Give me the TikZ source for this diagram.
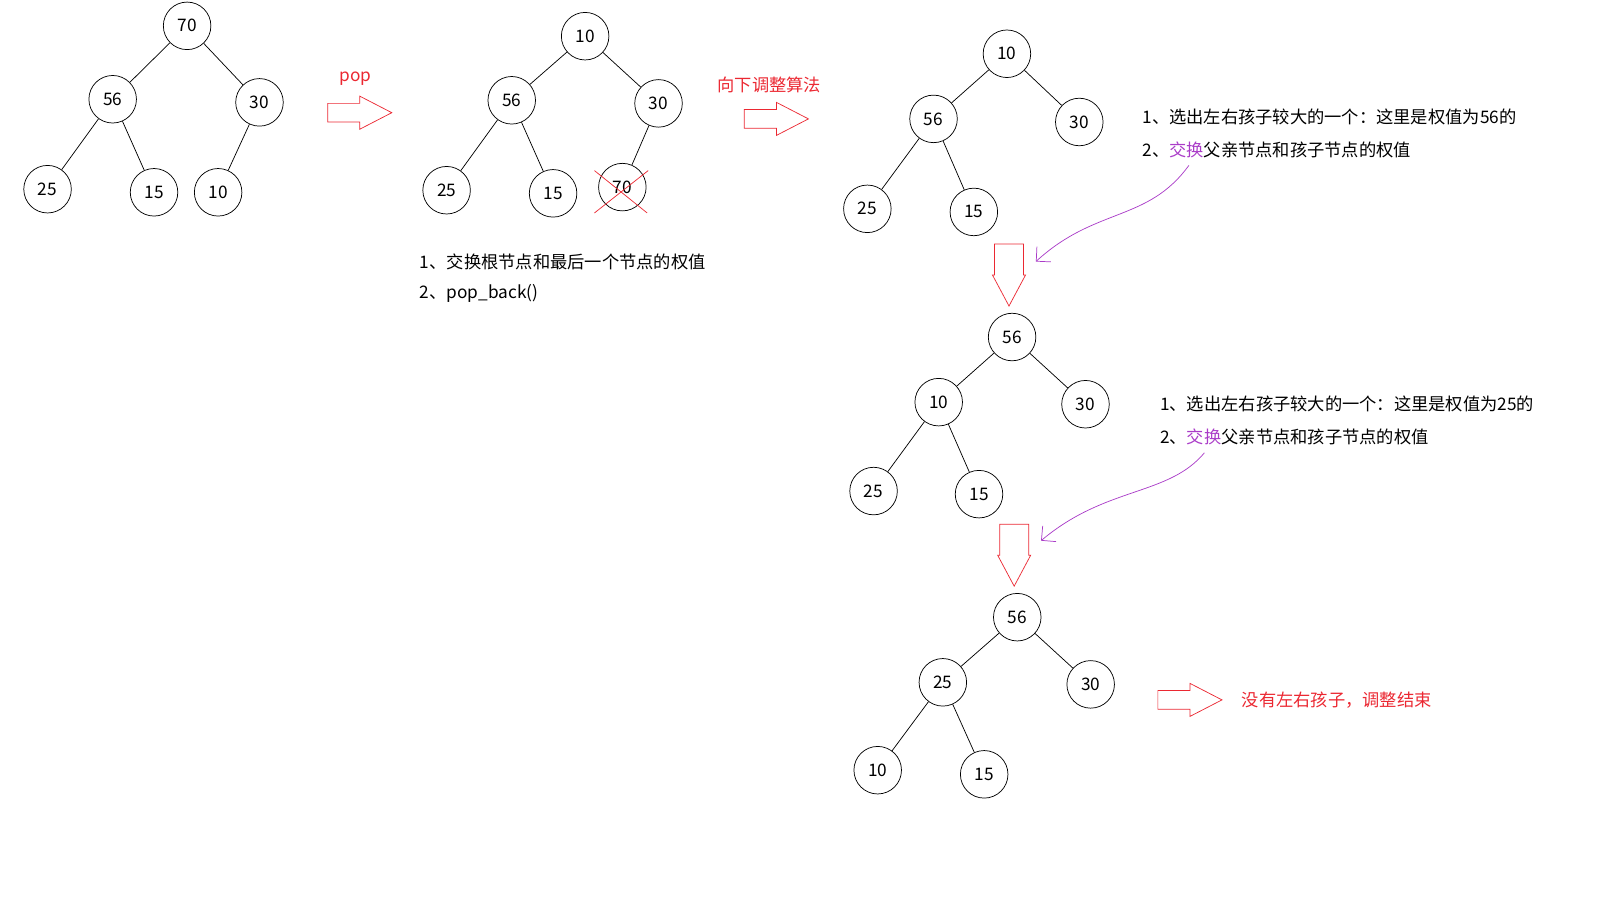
\documentclass[tikz,border=0pt]{standalone}
\usepackage{fontspec}
\setmainfont{Noto Sans CJK SC}
\usetikzlibrary{arrows.meta}
\usetikzlibrary{positioning}
\definecolor{hred}{RGB}{235,40,50}
\definecolor{hpurple}{RGB}{170,60,200}
\tikzset{
  heapnode/.style={circle, draw, thin, minimum size=0.92cm, inner sep=0pt, font=\fontsize{9.5}{11}\selectfont},
  edge/.style={draw, thin},
  blockarrow/.style={draw=hred, thin},
  note/.style={anchor=west, font=\fontsize{9.5}{11}\selectfont},
  rednote/.style={note, text=hred},
  swing/.style={draw=hpurple, thin, -{Straight Barb[length=2mm]}}
}
\newcommand{\rightblock}[1]{%
  \draw[blockarrow] ([shift={(0,-9)}]#1) -- ++(31,0) -- ++(0,-7) -- ++(31,16) -- ++(-31,16) -- ++(0,-7) -- ++(-31,0) -- cycle;}
\newcommand{\downblock}[1]{%
  \draw[blockarrow] ([shift={(-14,0)}]#1) -- ++(0,30) -- ++(-2,0) -- ++(16,30) -- ++(16,-30) -- ++(-2,0) -- ++(0,-30) -- cycle;}
\begin{document}
\begin{tikzpicture}[x=0.02cm, y=-0.02cm]
    \useasboundingbox (0,0) rectangle (1568,872);

    % Original heap
    \node[heapnode] (a1) at (181,25) {70};
    \node[heapnode] (a2) at (109,96) {56};
    \node[heapnode] (a3) at (251,99) {30};
    \node[heapnode] (a4) at (46,183) {25};
    \node[heapnode] (a5) at (149,186) {15};
    \node[heapnode] (a6) at (211,186) {10};
    \path[edge] (a1) -- (a2) (a1) -- (a3) (a2) -- (a4) (a2) -- (a5) (a3) -- (a6);

    % pop
    \rightblock{317,109}
    \node[text=hred, font=\fontsize{9.5}{11}\selectfont] (poplabel) at (344,76) {pop};

    % After swap
    \node[heapnode] (b1) at (566,35) {10};
    \node[heapnode] (b2) at (495,97) {56};
    \node[heapnode] (b3) at (637,100) {30};
    \node[heapnode] (b4) at (432,184) {25};
    \node[heapnode] (b5) at (535,187) {15};
    \node[heapnode] (b6) at (602,181) {70};
    \path[edge] (b1) -- (b2) (b1) -- (b3) (b2) -- (b4) (b2) -- (b5) (b3) -- (b6);
    \draw[hred, thin] (575,165) -- (626,206) (575,206) -- (627,165);
    \node[note] (s1) at (400,253) {1、交换根节点和最后一个节点的权值};
    \node[note] (s2) at (400,284) {2、pop\_back()};

    % Sift down
    \rightblock{720,115}
    \node[rednote] (downlabel) at (688,82) {向下调整算法};

    \node[heapnode] (c1) at (974,52) {10};
    \node[heapnode] (c2) at (903,115) {56};
    \node[heapnode] (c3) at (1044,118) {30};
    \node[heapnode] (c4) at (839,202) {25};
    \node[heapnode] (c5) at (942,205) {15};
    \path[edge] (c1) -- (c2) (c1) -- (c3) (c2) -- (c4) (c2) -- (c5);
    \node[note] (t1) at (1099,113) {1、选出左右孩子较大的一个：这里是权值为56的};
    \node[note] (t2) at (1099,145) {2、\textcolor{hpurple}{交换}父亲节点和孩子节点的权值};
    \coordinate (t2end) at (1002,253);
    \draw[swing] (1150,160) .. controls (1110,215) and (1060,200) .. (t2end);
    \downblock{976,236}

    \node[heapnode] (d1) at (979,326) {56};
    \node[heapnode] (d2) at (908,389) {10};
    \node[heapnode] (d3) at (1050,391) {30};
    \node[heapnode] (d4) at (845,475) {25};
    \node[heapnode] (d5) at (947,478) {15};
    \path[edge] (d1) -- (d2) (d1) -- (d3) (d2) -- (d4) (d2) -- (d5);
    \node[note] (u1) at (1116,391) {1、选出左右孩子较大的一个：这里是权值为25的};
    \node[note] (u2) at (1116,423) {2、\textcolor{hpurple}{交换}父亲节点和孩子节点的权值};
    \coordinate (u2end) at (1007,523);
    \draw[swing] (1165,438) .. controls (1130,480) and (1070,470) .. (u2end);
    \downblock{981,507}

    \node[heapnode] (e1) at (984,597) {56};
    \node[heapnode] (e2) at (912,660) {25};
    \node[heapnode] (e3) at (1055,662) {30};
    \node[heapnode] (e4) at (849,745) {10};
    \node[heapnode] (e5) at (952,749) {15};
    \path[edge] (e1) -- (e2) (e1) -- (e3) (e2) -- (e4) (e2) -- (e5);

    \rightblock{1120,677}
    \node[rednote] (endlabel) at (1195,677) {没有左右孩子，调整结束};
\end{tikzpicture}
\end{document}
